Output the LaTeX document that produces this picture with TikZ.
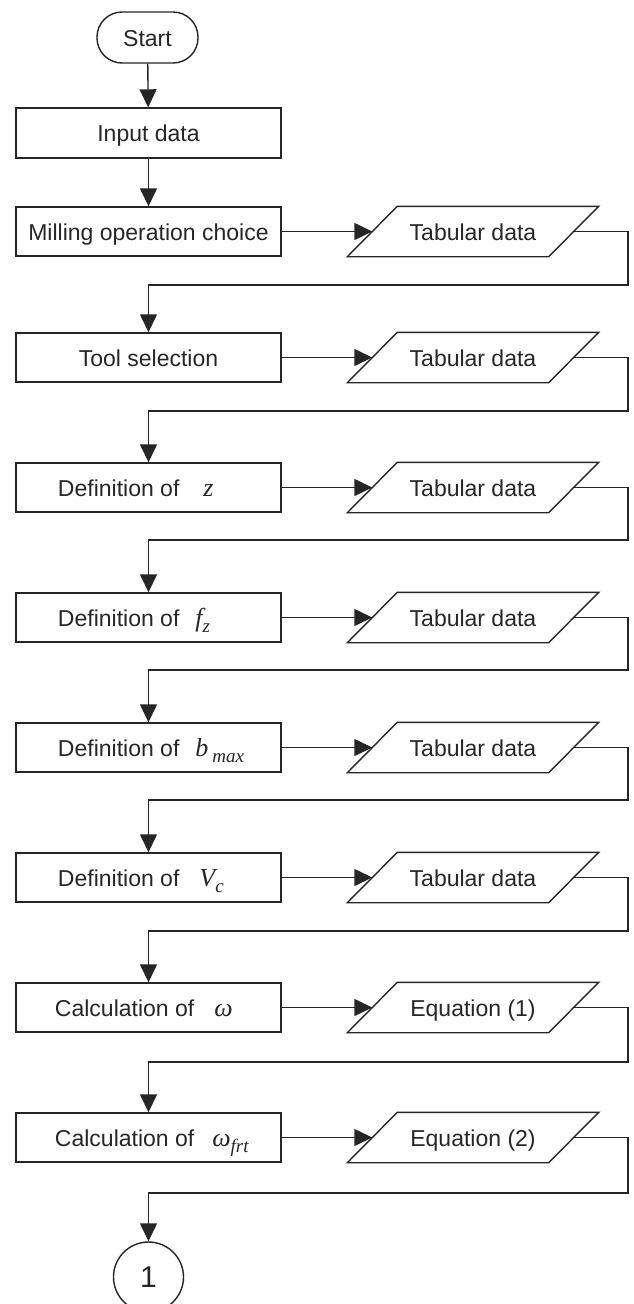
\documentclass[tikz,border=0pt]{standalone}
\usepackage{fontspec}
\setmainfont{Liberation Sans}
\newfontfamily\vsym{Liberation Serif}
\usetikzlibrary{arrows.meta,calc}
\newcommand\sym[1]{{\fontsize{26}{27}\selectfont\vsym\itshape #1}}
\newcommand\sbs[1]{\raisebox{-6pt}[0pt][0pt]{\fontsize{19}{19}\selectfont\vsym\itshape #1}}
\begin{document}
\begin{tikzpicture}[x=1pt,y=-1pt,line width=1.4pt,
  every node/.style={font=\fontsize{23}{27}\selectfont, text=black!85},
  ln/.style={draw=black!85},
  cen/.style={text height=22pt, text depth=5pt},
  box/.style={cen, draw=black!85, minimum width=265pt, minimum height=49pt, inner sep=0pt},
  term/.style={cen, draw=black!85, rounded corners=25pt, minimum width=101pt, minimum height=51pt, inner sep=0pt},
  io/.style={cen, minimum width=200pt, minimum height=49pt, inner sep=0pt},
  conn/.style={draw=black!85, circle, minimum size=70pt, inner sep=0pt, font=\fontsize{30}{30}\selectfont},
  arr/.style={ln, -{Triangle[length=18pt,width=17pt]}}]
\useasboundingbox (0,0) rectangle (634,1304);

\node[term] (start) at (147.5,37.5) {Start};
\node[box, minimum height=50pt] (b0) at (148.5,133) {Input data};
\node[box] (b1) at (148.5,231.5) {Milling operation choice};
\node[box] (b2) at (148.5,357.5) {Tool selection};
\node[box] (b3) at (148.5,487.5) {\makebox[265pt][l]{\hspace{42pt}Definition of\hspace{24pt}\sym{z}}};
\node[box] (b4) at (148.5,617.5) {\makebox[265pt][l]{\hspace{42pt}Definition of\hspace{16pt}\sym{f}\sbs{z}}};
\node[box] (b5) at (148.5,747.5) {\makebox[265pt][l]{\hspace{42pt}Definition of\hspace{16pt}\sym{b}\,\sbs{max}}};
\node[box] (b6) at (148.5,877.5) {\makebox[265pt][l]{\hspace{42pt}Definition of\hspace{20pt}\sym{V}\sbs{c}}};
\node[box] (b7) at (148.5,1007.5) {\makebox[265pt][l]{\hspace{39pt}Calculation of\hspace{20pt}\sym{ω}}};
\node[box] (b8) at (148.5,1137.5) {\makebox[265pt][l]{\hspace{39pt}Calculation of\hspace{18pt}\sym{ω}\sbs{frt}}};

\node[io] (d1) at (473,231.5) {Tabular data};
\node[io] (d2) at (473,357.5) {Tabular data};
\node[io] (d3) at (473,487.5) {Tabular data};
\node[io] (d4) at (473,617.5) {Tabular data};
\node[io] (d5) at (473,747.5) {Tabular data};
\node[io] (d6) at (473,877.5) {Tabular data};
\node[io] (d7) at (473,1007.5) {Equation (1)};
\node[io] (d8) at (473,1137.5) {Equation (2)};

\node[conn] (c1) at (148.5,1277) {1};

\foreach \d in {d1,d2,d3,d4,d5,d6,d7,d8}
  \draw[ln] ($(\d.south west)+(-25,0)$) -- ($(\d.south east)+(-25,0)$)
     -- ($(\d.north east)+(25,0)$) -- ($(\d.north west)+(25,0)$) -- cycle;

\coordinate (L1) at (628,285);
\coordinate (L2) at (628,411);
\coordinate (L3) at (628,540);
\coordinate (L4) at (628,670);
\coordinate (L5) at (628,800);
\coordinate (L6) at (628,931);
\coordinate (L7) at (628,1062);
\coordinate (L8) at (628,1193);

\draw[arr] (start) -- (b0);
\draw[arr] (b0) -- (b1);
\foreach \i in {1,...,8} \draw[arr] (b\i.east) -- (d\i.west);
\draw[arr] (d1.east) -| (L1) -| (b2.north);
\draw[arr] (d2.east) -| (L2) -| (b3.north);
\draw[arr] (d3.east) -| (L3) -| (b4.north);
\draw[arr] (d4.east) -| (L4) -| (b5.north);
\draw[arr] (d5.east) -| (L5) -| (b6.north);
\draw[arr] (d6.east) -| (L6) -| (b7.north);
\draw[arr] (d7.east) -| (L7) -| (b8.north);
\draw[arr] (d8.east) -| (L8) -| (c1.north);
\end{tikzpicture}
\end{document}
